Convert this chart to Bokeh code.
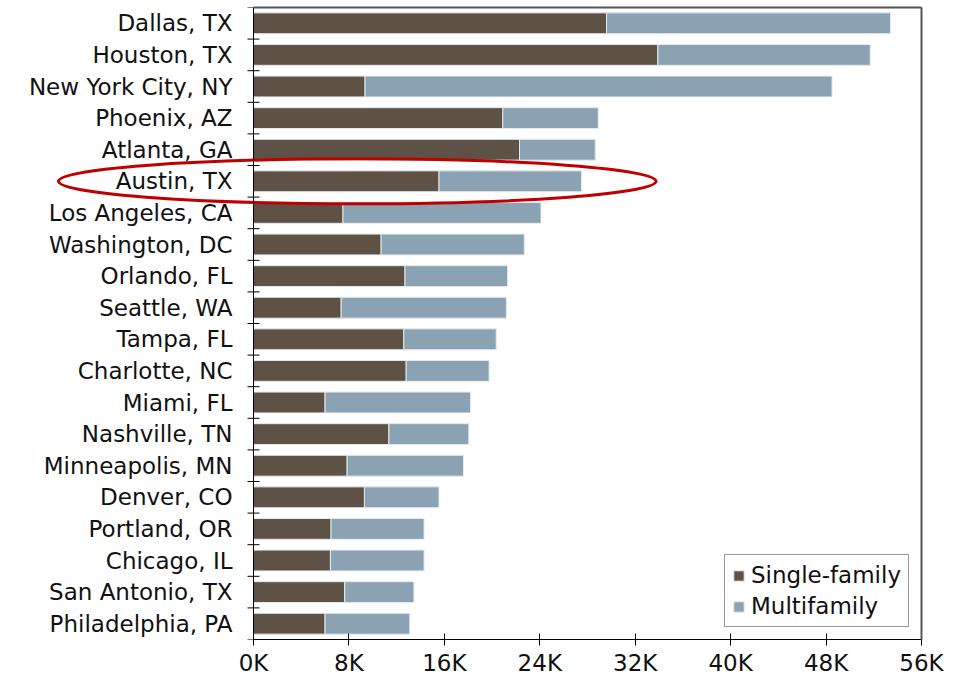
from bokeh.plotting import figure
from bokeh.models import (ColumnDataSource, Range1d, FixedTicker, PrintfTickFormatter,
                          Legend, LinearAxis, Span)
from bokeh.core.properties import value
from bokeh.embed import file_html
from bokeh.resources import INLINE

# Housing permits by metro (thousands of units)
cities = ["Dallas, TX", "Houston, TX", "New York City, NY", "Phoenix, AZ", "Atlanta, GA",
          "Austin, TX", "Los Angeles, CA", "Washington, DC", "Orlando, FL", "Seattle, WA",
          "Tampa, FL", "Charlotte, NC", "Miami, FL", "Nashville, TN", "Minneapolis, MN",
          "Denver, CO", "Portland, OR", "Chicago, IL", "San Antonio, TX", "Philadelphia, PA"]
single_family = [29.6, 33.9, 9.35, 20.9, 22.3, 15.55, 7.5, 10.7, 12.7, 7.35,
                 12.6, 12.8, 6.0, 11.35, 7.85, 9.3, 6.5, 6.45, 7.65, 6.0]
totals = [53.4, 51.7, 48.5, 28.9, 28.65, 27.5, 24.1, 22.7, 21.3, 21.2,
          20.35, 19.75, 18.2, 18.05, 17.6, 15.55, 14.3, 14.3, 13.45, 13.1]
multifamily = [round(t - s, 2) for t, s in zip(totals, single_family)]
x_ticks = [0, 8, 16, 24, 32, 40, 48, 56]
series_names = ["Single-family", "Multifamily"]
series_colors = ["#5E5246", "#8AA2B2"]
highlight = "Austin, TX"

n = len(cities)
ypos = [n - i for i in range(n)]  # first city on top
x_max = x_ticks[-1]

# The frame spans the label column too, so the highlight ring can reach past the axis.
W, H = 970, 680
right_pad, top_pad, bottom_pad = 49, 7, 41
frame_w = W - right_pad
axis_px = 253                      # pixel position of the value axis (x = 0)
x_min = -axis_px * x_max / (frame_w - axis_px)
px = (x_max - x_min) / frame_w     # data units per pixel

src = ColumnDataSource(dict(y=ypos, city=cities, sf=single_family, mf=multifamily))

FONT = "DejaVu Sans"
FS = "23px"

p = figure(width=W, height=H, output_backend="svg", toolbar_location=None,
           x_range=Range1d(x_min, x_max), y_range=Range1d(0.5, n + 0.5),
           y_axis_location=None,
           min_border_left=0, min_border_right=right_pad,
           min_border_top=top_pad, min_border_bottom=bottom_pad)
p.xgrid.visible = False
p.ygrid.visible = False
p.outline_line_color = None
p.background_fill_color = "white"
p.border_fill_color = "white"

rs = p.hbar_stack(["sf", "mf"], y="y", height=0.66, color=series_colors,
                  line_color="#e4eaee", line_width=1, source=src)

# category labels, right-aligned against the value axis
p.text(x=0, y="y", text="city", source=src, x_offset=-21, text_align="right",
       text_baseline="middle", text_font=value(FONT), text_font_size=FS,
       text_color="#111111")

# value axis line and tick marks between the bars
p.add_layout(Span(location=0, dimension="height", line_color="black", line_width=1))
bounds = [v + 0.5 for v in range(n + 1)]
p.segment(x0=[-6 * px] * len(bounds), x1=[6 * px] * len(bounds), y0=bounds, y1=bounds,
          line_color="black", line_width=1)

# bottom axis
xa = p.xaxis[0]
xa.bounds = (0, x_max)
xa.ticker = FixedTicker(ticks=x_ticks)
xa.formatter = PrintfTickFormatter(format="%dK")
xa.major_label_text_font = FONT
xa.major_label_text_font_size = FS
xa.major_label_text_color = "#111111"
xa.major_tick_in = 6
xa.major_tick_out = 6
xa.major_tick_line_color = "black"
xa.minor_tick_line_color = None
xa.axis_line_color = "black"
xa.major_label_standoff = 4

# top and right borders of the plotting box
top = LinearAxis(bounds=(0, x_max), ticker=FixedTicker(ticks=[]),
                 axis_line_color="#555555", axis_line_width=2,
                 major_tick_line_color=None, minor_tick_line_color=None,
                 major_label_text_font_size="0px")
right = LinearAxis(ticker=FixedTicker(ticks=[]),
                   axis_line_color="#555555", axis_line_width=2,
                   major_tick_line_color=None, minor_tick_line_color=None,
                   major_label_text_font_size="0px")
p.add_layout(top, "above")
p.add_layout(right, "right")

legend = Legend(items=[(series_names[0], [rs[0]]), (series_names[1], [rs[1]])],
                location="bottom_right")
legend.label_text_font = FONT
legend.label_text_font_size = FS
legend.label_text_color = "#111111"
legend.glyph_width = 13
legend.glyph_height = 13
legend.label_height = 22
legend.label_standoff = 6
legend.spacing = 5
legend.padding = 7
legend.margin = 12
legend.border_line_color = "#333333"
legend.border_line_width = 1
legend.background_fill_alpha = 1
p.add_layout(legend)

# red ring around the highlighted metro
cy = ypos[cities.index(highlight)]
p.ellipse(x=[8.7], y=[cy], width=[50.1], height=[1.42], fill_color=None,
          line_color="#C00000", line_width=3)

open("out.html", "w").write(file_html(p, INLINE))
